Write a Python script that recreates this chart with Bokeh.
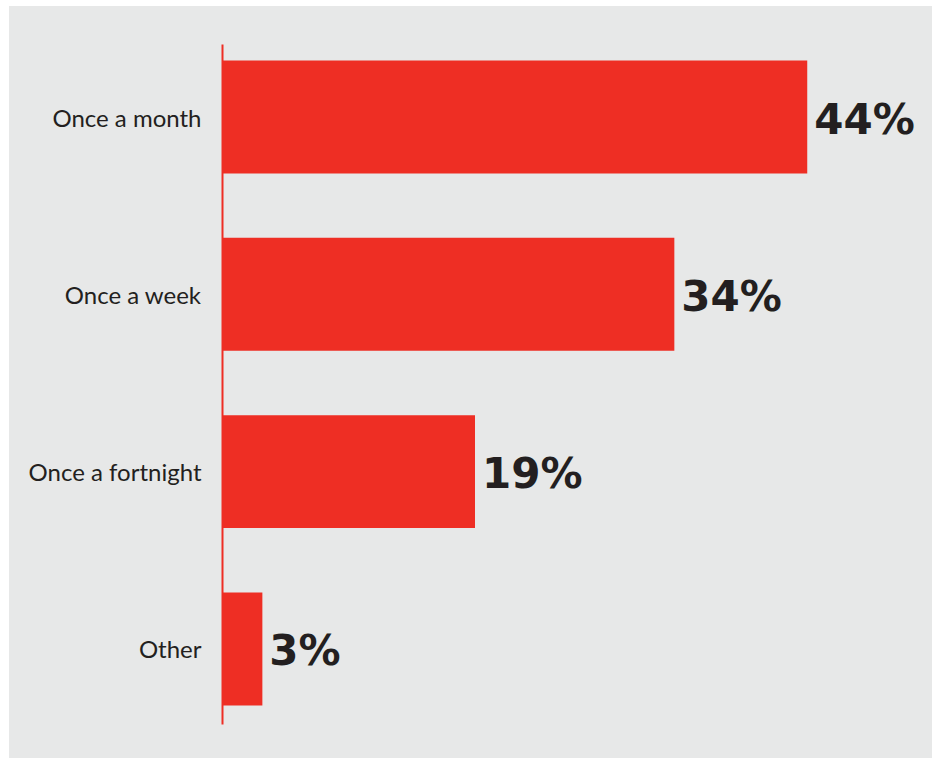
from bokeh.plotting import figure
from bokeh.models import ColumnDataSource, Range1d, FixedTicker
from bokeh.core.properties import value
from bokeh.embed import file_html
from bokeh.resources import INLINE

categories = ["Once a month", "Once a week", "Once a fortnight", "Other"]
values = [44, 34, 19, 3]
labels = ["44%", "34%", "19%", "3%"]
positions = [3, 2, 1, 0]

RED = "#ee2e24"
BG = "#e7e8e8"
TXT = "#231f20"

src = ColumnDataSource(dict(y=positions, v=values, lab=labels, cat=categories))

p = figure(width=923, height=752, output_backend="svg", toolbar_location=None,
           x_range=Range1d(0, 53.2), y_range=Range1d(-0.426, 3.409),
           min_border_left=213, min_border_right=3, min_border_top=38, min_border_bottom=34,
           background_fill_color=BG, background_fill_alpha=0,
           border_fill_color=BG, border_fill_alpha=0,
           outline_line_color=None)
p.frame_width = 707
p.frame_height = 680
p.styles = {"margin-left": "9px", "margin-top": "6px", "background-color": BG}

p.hbar(y="y", right="v", left=0, height=0.637, source=src, fill_color=RED, line_color=None)
p.text(x="v", y="y", text="lab", source=src, x_offset=7, y_offset=2, text_baseline="middle", text_align="left",
       text_font=value("DejaVu Sans"), text_font_style="bold", text_font_size="42px", text_color=TXT)

p.grid.visible = False
p.xaxis.visible = False
ax = p.yaxis[0]
ax.ticker = FixedTicker(ticks=positions)
ax.major_label_overrides = {pos: c for pos, c in zip(positions, categories)}
ax.major_tick_line_color = None
ax.minor_tick_line_color = None
ax.axis_line_color = RED
ax.axis_line_width = 2
ax.major_label_standoff = 15
ax.major_label_text_font = "Lato"
ax.major_label_text_font_size = "24px"
ax.major_label_text_color = TXT

open("out.html", "w").write(file_html(p, INLINE))
